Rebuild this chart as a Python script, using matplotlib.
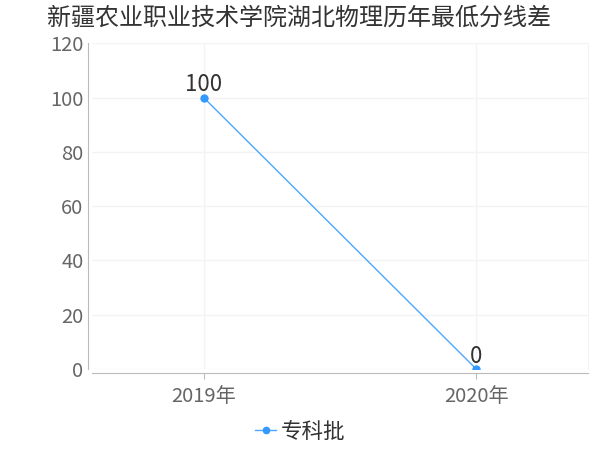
import matplotlib.pyplot as plt

plt.rcParams['font.family'] = ['Noto Sans CJK SC', 'DejaVu Sans']

title = '新疆农业职业技术学院湖北物理历年最低分线差'
years = ['2019年', '2020年']
scores = [100, 0]
series_name = '专科批'

fig = plt.figure(figsize=(6, 4.5), dpi=100)
ax = fig.add_axes([0.153, 0.18, 0.827, 0.724])

x = list(range(len(years)))
ax.plot(x, scores, color='#4da6ff', linewidth=1, marker='o', markersize=5,
        markerfacecolor='#3399ff', markeredgecolor='#3399ff', label=series_name)
for xi, v in zip(x, scores):
    ax.annotate(str(v), (xi, v), xytext=(0, 1), textcoords='offset points',
                ha='center', va='bottom', fontsize=16, color='#333333')

ax.set_xlim(-0.41, 1.41)
ax.set_ylim(0, 120)
ax.set_yticks(range(0, 121, 20))
ax.set_xticks(x)
ax.set_xticklabels(years)
ax.tick_params(axis='both', labelsize=14.5, colors='#666666', length=4)
ax.tick_params(axis='y', length=0, pad=3)
ax.tick_params(axis='x', color='#bbbbbb', pad=5)
ax.grid(True, color='#f3f3f3', linewidth=1)
ax.set_axisbelow(True)

ax.spines['top'].set_visible(False)
ax.spines['right'].set_color('#f3f3f3')
ax.spines['left'].set_color('#bbbbbb')
ax.spines['bottom'].set_color('#bbbbbb')
ax.spines['left'].set_position(('outward', 3))
ax.spines['bottom'].set_position(('outward', 3))

fig.text(0.078, 0.96, title, fontsize=17.3, color='#333333', va='center', ha='left')

fig.legend(loc='center', bbox_to_anchor=(0.5, 0.04), frameon=False,
           fontsize=15.5, handlelength=1.0, handletextpad=0.2, markerscale=0.9,
           labelcolor='#333333')

fig.savefig('out.png', dpi=100)
